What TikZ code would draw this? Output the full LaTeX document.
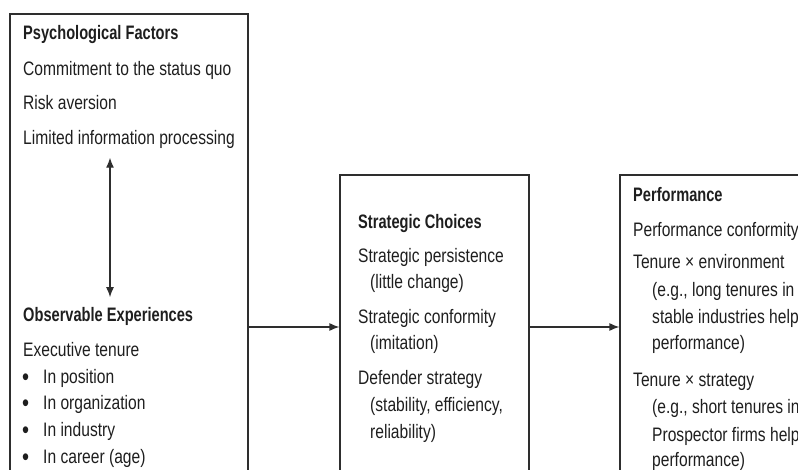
\documentclass[tikz,border=0pt]{standalone}
\usepackage{fontspec}
\setmainfont{Liberation Sans}[FakeStretch=0.8, BoldFeatures={FakeStretch=0.75}]
\usetikzlibrary{arrows.meta}
\definecolor{ink}{HTML}{1E1E1E}
\definecolor{frame}{HTML}{2E2E2E}
\tikzset{
  txt/.style={anchor=base west, inner sep=0pt, text=ink,
              font=\fontsize{19.5}{23}\selectfont},
  hd/.style={txt, font=\fontsize{19.5}{23}\selectfont\bfseries},
  dot/.style={txt, font=\fontsize{25}{27}\selectfont},
  panel/.style={draw=frame, line width=1.2pt, inner sep=0pt, fill=none},
  link/.style={draw=frame, line width=1.2pt, -{Latex[length=10pt,width=8pt]}},
  twoway/.style={draw=frame, line width=1.2pt,
                 {Latex[length=10pt,width=8pt]}-{Latex[length=10pt,width=8pt]}},
}
\begin{document}
\begin{tikzpicture}[x=1pt, y=-1pt]
  \useasboundingbox (0,0) rectangle (798,470);
  \clip (0,0) rectangle (798,470);

  % the three panels (they run past the lower and right edges)
  \node[panel, minimum width=238pt, minimum height=486pt] (left)  at (129,257)   {};
  \node[panel, minimum width=189pt, minimum height=325pt] (mid)   at (434.5,337.5) {};
  \node[panel, minimum width=210pt, minimum height=325pt] (right) at (725,337.5)   {};

  % left panel: psychological factors
  \node[hd]  (psy)  at (23,39.5)   {Psychological Factors};
  \node[txt] (com)  at (23,76)     {Commitment to the status quo};
  \node[txt] (risk) at (23,109.5)  {Risk aversion};
  \node[txt] (lim)  at (23,144.5)  {Limited information processing};

  % left panel: observable experiences
  \node[hd]  (obs)  at (23,321.5)  {Observable Experiences};
  \node[txt] (exe)  at (23,356.5)  {Executive tenure};
  \node[dot] (b1)   at (22,385)    {•};
  \node[txt] (pos)  at (43,383.5)  {In position};
  \node[dot] (b2)   at (22,411)    {•};
  \node[txt] (org)  at (43,409.5)  {In organization};
  \node[dot] (b3)   at (22,438)    {•};
  \node[txt] (ind)  at (43,436.5)  {In industry};
  \node[dot] (b4)   at (22,465)    {•};
  \node[txt] (car)  at (43,463.5)  {In career (age)};

  % middle panel: strategic choices
  \node[hd]  (sc)   at (358,228.5) {Strategic Choices};
  \node[txt] (sp)   at (358,262.5) {Strategic persistence};
  \node[txt] (sp2)  at (370,288.5) {(little change)};
  \node[txt] (scf)  at (358,323.5) {Strategic conformity};
  \node[txt] (scf2) at (370,349.5) {(imitation)};
  \node[txt] (ds)   at (358,384.5) {Defender strategy};
  \node[txt] (ds2)  at (370,411.5) {(stability, efficiency,};
  \node[txt] (ds3)  at (370,438.5) {reliability)};

  % right panel: performance
  \node[hd]  (pf)   at (633,201.5) {Performance};
  \node[txt] (pc)   at (633,236.5) {Performance conformity};
  \node[txt] (te)   at (633,268.5) {Tenure × environment};
  \node[txt] (te2)  at (652,296.5) {(e.g., long tenures in};
  \node[txt] (te3)  at (652,323.5) {stable industries help};
  \node[txt] (te4)  at (652,349.5) {performance)};
  \node[txt] (ts)   at (633,386.5) {Tenure × strategy};
  \node[txt] (ts2)  at (652,413.5) {(e.g., short tenures in};
  \node[txt] (ts3)  at (652,441.5) {Prospector firms help};
  \node[txt] (ts4)  at (652,466.5) {performance)};

  % connectors
  \coordinate (row) at (0,327);
  \coordinate (vx)  at (110,0);
  \draw[twoway] ([yshift=-9pt]lim.south -| vx) -- ([yshift=10pt]obs.north -| vx);
  \draw[link] (left.east |- row) -- (mid.west |- row);
  \draw[link] (mid.east |- row) -- (right.west |- row);
\end{tikzpicture}
\end{document}
